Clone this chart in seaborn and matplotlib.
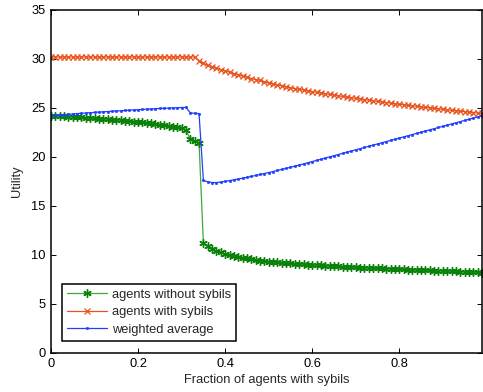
import matplotlib
matplotlib.use("Agg")
import matplotlib.pyplot as plt
import seaborn as sns
import pandas as pd

# ---- data ----
fraction = [round(i * 0.01, 2) for i in range(100)]

without_sybils = [
    24.20, 24.18, 24.16, 24.13, 24.11, 24.08, 24.06, 24.03, 24.00, 23.97,
    23.94, 23.91, 23.87, 23.84, 23.80, 23.77, 23.73, 23.69, 23.65, 23.60,
    23.56, 23.51, 23.46, 23.41, 23.35, 23.30, 23.24, 23.17, 23.10, 23.02,
    22.90, 22.75, 21.80, 21.60, 21.45, 11.20, 10.85, 10.60, 10.40, 10.25,
    10.10, 9.98, 9.88, 9.78, 9.70, 9.62, 9.54, 9.47, 9.41, 9.35,
    9.30, 9.26, 9.22, 9.18, 9.15, 9.12, 9.09, 9.06, 9.03, 9.00,
    8.97, 8.94, 8.91, 8.89, 8.86, 8.84, 8.81, 8.79, 8.76, 8.74,
    8.72, 8.70, 8.68, 8.66, 8.64, 8.62, 8.60, 8.58, 8.56, 8.54,
    8.52, 8.50, 8.48, 8.46, 8.45, 8.43, 8.41, 8.40, 8.38, 8.36,
    8.35, 8.33, 8.31, 8.30, 8.28, 8.26, 8.24, 8.22, 8.20, 8.18,
]

with_sybils = [
    30.2, 30.2, 30.2, 30.2, 30.2, 30.2, 30.2, 30.2, 30.2, 30.2,
    30.2, 30.2, 30.2, 30.2, 30.2, 30.2, 30.2, 30.2, 30.2, 30.2,
    30.2, 30.2, 30.2, 30.2, 30.2, 30.2, 30.2, 30.2, 30.2, 30.2,
    30.2, 30.2, 30.2, 30.2, 29.8, 29.55, 29.35, 29.2, 29.05, 28.9,
    28.8, 28.65, 28.5, 28.4, 28.25, 28.15, 28.0, 27.9, 27.8, 27.65,
    27.55, 27.45, 27.35, 27.25, 27.15, 27.05, 26.97, 26.9, 26.82, 26.74,
    26.66, 26.6, 26.52, 26.45, 26.38, 26.31, 26.24, 26.17, 26.1, 26.04,
    25.98, 25.92, 25.85, 25.79, 25.73, 25.67, 25.61, 25.55, 25.49, 25.43,
    25.37, 25.32, 25.26, 25.21, 25.16, 25.1, 25.05, 25.0, 24.95, 24.9,
    24.85, 24.8, 24.76, 24.71, 24.66, 24.62, 24.57, 24.53, 24.48, 24.44,
]

weighted_average = [
    24.20, 24.24, 24.28, 24.31, 24.35, 24.38, 24.42, 24.45, 24.48, 24.51,
    24.54, 24.57, 24.60, 24.63, 24.66, 24.69, 24.71, 24.74, 24.77, 24.79,
    24.82, 24.84, 24.87, 24.89, 24.92, 24.94, 24.96, 24.98, 25.00, 25.02,
    25.04, 25.05, 24.50, 24.45, 24.42, 17.60, 17.45, 17.38, 17.38, 17.42,
    17.50, 17.58, 17.66, 17.74, 17.82, 17.91, 18.00, 18.10, 18.20, 18.30,
    18.40, 18.50, 18.61, 18.72, 18.83, 18.94, 19.05, 19.16, 19.28, 19.40,
    19.52, 19.64, 19.76, 19.88, 20.00, 20.12, 20.24, 20.36, 20.48, 20.60,
    20.72, 20.84, 20.96, 21.08, 21.20, 21.32, 21.44, 21.56, 21.68, 21.80,
    21.92, 22.04, 22.16, 22.28, 22.40, 22.52, 22.64, 22.76, 22.88, 23.00,
    23.12, 23.24, 23.36, 23.48, 23.60, 23.72, 23.84, 23.96, 24.08, 24.20,
]

series_labels = ["agents without sybils", "agents with sybils", "weighted average"]
x_ticks = [0, 0.2, 0.4, 0.6, 0.8]
x_tick_labels = ["0", "0.2", "0.4", "0.6", "0.8"]
y_ticks = [0, 5, 10, 15, 20, 25, 30, 35]

# ---- style ----
sns.set_style("white")
plt.rcParams["font.family"] = ["Liberation Sans", "DejaVu Sans"]
FS = 9.3

fig = plt.figure(figsize=(4.83, 3.92), dpi=100)
ax = fig.add_axes([0.1056, 0.1003, 0.8924, 0.8742])

df = pd.DataFrame({
    "x": fraction,
    "without": without_sybils,
    "with": with_sybils,
    "avg": weighted_average,
})

green_line = "#3fa83f"
green_mark = "#0a820a"
orange = "#e8531c"
blue = "#1f3fff"
asterisk = (6, 2, 0)

sns.lineplot(data=df, x="x", y="without", ax=ax, color=green_line,
             marker=asterisk, markersize=6, markeredgecolor=green_mark,
             markerfacecolor=green_mark, markeredgewidth=1.0,
             linewidth=0.9, label=series_labels[0], sort=False)
sns.lineplot(data=df, x="x", y="with", ax=ax, color=orange,
             marker="x", markersize=4, markeredgecolor=orange,
             markeredgewidth=0.9, linewidth=0.9, label=series_labels[1],
             sort=False)
sns.lineplot(data=df, x="x", y="avg", ax=ax, color=blue,
             marker=".", markersize=3.5, markeredgecolor=blue,
             markerfacecolor=blue, markeredgewidth=0.4,
             linewidth=0.9, label=series_labels[2], sort=False)

ax.set_xlim(0, 0.99)
ax.set_ylim(0, 35)
ax.set_xticks(x_ticks)
ax.set_xticklabels(x_tick_labels, fontsize=FS)
ax.set_yticks(y_ticks)
ax.set_yticklabels([str(v) for v in y_ticks], fontsize=FS)
ax.tick_params(direction="in", length=3.5, width=0.7, top=True, right=True,
               bottom=True, left=True, colors="black", pad=4)
for s in ax.spines.values():
    s.set_visible(True)
    s.set_color("black")
    s.set_linewidth(1.1)

ax.set_xlabel("Fraction of agents with sybils", fontsize=FS, labelpad=3)
ax.set_ylabel("Utility", fontsize=FS, labelpad=6)

leg = ax.legend(loc="lower left", bbox_to_anchor=(0.0255, 0.034),
                borderaxespad=0, fontsize=FS, frameon=True, fancybox=False,
                edgecolor="black", handlelength=3.1, handletextpad=0.35,
                labelspacing=0.42, borderpad=0.4, numpoints=1)
leg.get_frame().set_linewidth(1.1)
leg.get_frame().set_facecolor("white")
leg.get_frame().set_alpha(1)

fig.savefig("out.png", dpi=100, facecolor="white")
